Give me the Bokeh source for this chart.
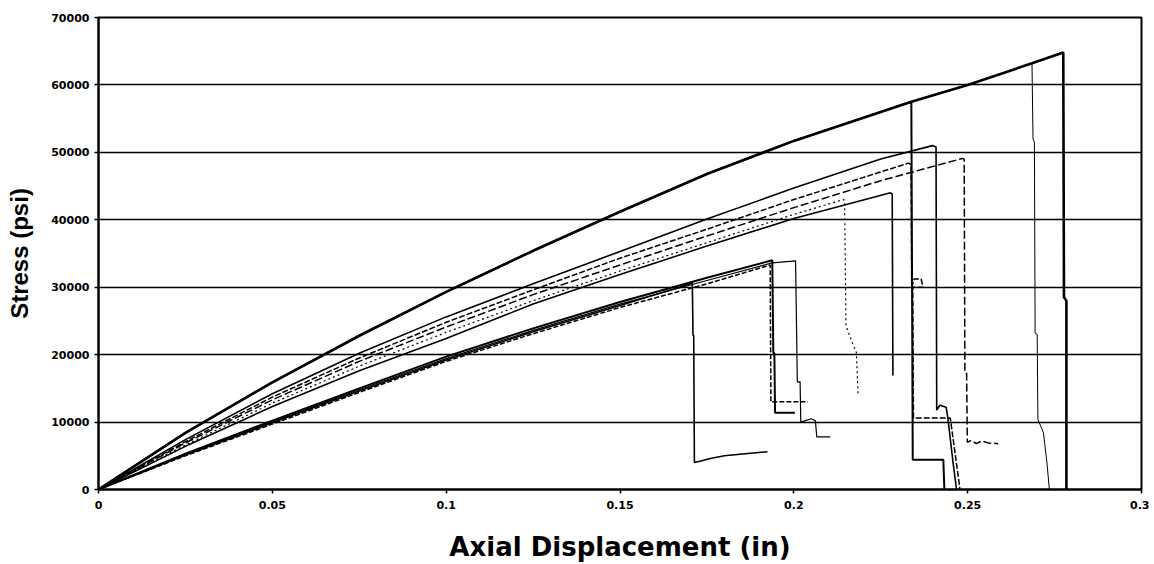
from bokeh.plotting import figure
from bokeh.models import FixedTicker, Range1d, CustomJSTickFormatter
from bokeh.embed import file_html
from bokeh.resources import INLINE

# ---- tick values / labels ----
x_ticks = [0, 0.05, 0.1, 0.15, 0.2, 0.25, 0.3]
x_tick_labels = ["0", "0.05", "0.1", "0.15", "0.2", "0.25", "0.3"]
y_ticks = [0, 10000, 20000, 30000, 40000, 50000, 60000, 70000]
y_tick_labels = ["0", "10000", "20000", "30000", "40000", "50000", "60000", "70000"]

# ---- specimens: axial displacement (in) / stress (psi) ----
s1_disp = [0, 0.025, 0.05, 0.075, 0.1, 0.125, 0.15, 0.175, 0.2, 0.225, 0.2338, 0.25, 0.2685, 0.2775, 0.2777, 0.2784, 0.2784]
s1_stress = [0, 8400, 15900, 22800, 29300, 35400, 41200, 46800, 51700, 56000, 57500, 60000, 63200, 64800, 28500, 28000, 0]

s2_disp = [0, 0.025, 0.05, 0.075, 0.1, 0.125, 0.15, 0.175, 0.2, 0.225, 0.2338, 0.25, 0.2685, 0.2688, 0.2692, 0.2694, 0.2700, 0.2702, 0.2718, 0.2728, 0.2735]
s2_stress = [0, 8400, 15900, 22800, 29300, 35400, 41200, 46800, 51700, 56000, 57500, 60000, 63200, 52000, 51500, 23200, 23000, 10400, 8400, 4000, 0]

s3_disp = [0, 0.025, 0.05, 0.075, 0.1, 0.125, 0.15, 0.175, 0.2, 0.225, 0.2338, 0.2342, 0.2430, 0.2433]
s3_stress = [0, 8400, 15900, 22800, 29300, 35400, 41200, 46800, 51700, 56000, 57500, 4400, 4400, 0]

s4_disp = [0, 0.025, 0.05, 0.075, 0.1, 0.125, 0.15, 0.175, 0.2, 0.225, 0.2399, 0.2409, 0.2411, 0.2420, 0.2438, 0.2443, 0.2458, 0.2468]
s4_stress = [0, 7400, 14200, 20200, 25600, 30500, 35300, 40100, 44700, 49000, 51000, 50800, 11800, 12500, 12200, 10600, 4000, 0]

s5_disp = [0, 0.025, 0.05, 0.075, 0.1, 0.125, 0.15, 0.175, 0.2, 0.225, 0.2330, 0.2337, 0.2339, 0.2346, 0.2366, 0.2372, 0.2342, 0.2344, 0.2450, 0.2478]
s5_stress = [0, 7100, 13700, 19500, 24800, 29600, 34300, 38600, 43000, 47100, 48400, 48200, 30000, 31200, 31200, 30000, 30000, 10600, 10600, 0]

s6_disp = [0, 0.025, 0.05, 0.075, 0.1, 0.125, 0.15, 0.175, 0.2, 0.225, 0.2485, 0.2490, 0.2492, 0.2497, 0.2499, 0.2510, 0.2525, 0.2540, 0.2560, 0.2588]
s6_stress = [0, 6900, 13300, 19000, 24100, 28900, 33300, 37600, 41800, 45800, 49100, 49000, 17300, 17200, 7000, 7300, 6800, 7200, 6900, 6800]

s7_disp = [0, 0.025, 0.05, 0.075, 0.1, 0.125, 0.15, 0.175, 0.2, 0.2278, 0.2283, 0.2285]
s7_stress = [0, 6400, 12300, 17600, 22400, 27500, 31900, 36100, 40200, 44000, 43800, 16900]

s8_disp = [0, 0.025, 0.05, 0.075, 0.1, 0.125, 0.15, 0.175, 0.2, 0.2143, 0.2146, 0.2150, 0.2170, 0.2180, 0.2185]
s8_stress = [0, 6600, 12800, 18300, 23300, 28000, 32400, 36600, 40800, 43000, 42800, 24300, 21500, 20300, 14000]

s9_disp = [0, 0.025, 0.05, 0.075, 0.1, 0.125, 0.15, 0.1708, 0.1710, 0.1712, 0.1714, 0.1730, 0.1760, 0.1800, 0.1860, 0.1924]
s9_stress = [0, 5100, 9900, 14600, 19200, 23400, 27300, 30600, 22900, 22800, 4000, 4200, 4600, 5000, 5300, 5600]

s10_disp = [0, 0.025, 0.05, 0.075, 0.1, 0.125, 0.15, 0.175, 0.1938, 0.1941, 0.1944, 0.1946, 0.2003]
s10_stress = [0, 5300, 10200, 15000, 19700, 23900, 27800, 31400, 34000, 20300, 20200, 11400, 11400]

s11_disp = [0, 0.025, 0.05, 0.075, 0.1, 0.125, 0.15, 0.175, 0.1932, 0.1934, 0.2040]
s11_stress = [0, 5000, 9700, 14400, 19000, 23100, 27000, 30500, 33300, 13000, 13000]

s12_disp = [0, 0.025, 0.05, 0.075, 0.1, 0.125, 0.15, 0.175, 0.1938, 0.2005, 0.2010, 0.2012, 0.2018, 0.2020, 0.2050, 0.2062, 0.2066, 0.2105]
s12_stress = [0, 5200, 10000, 14800, 19400, 23600, 27500, 31000, 33600, 33900, 16000, 15900, 16000, 10000, 10500, 10200, 7800, 7800]

series = [
    (s1_disp, s1_stress, 2.6, "solid"),
    (s2_disp, s2_stress, 1.0, "solid"),
    (s3_disp, s3_stress, 2.0, "solid"),
    (s4_disp, s4_stress, 1.6, "solid"),
    (s5_disp, s5_stress, 1.5, "6 2"),
    (s6_disp, s6_stress, 1.5, "8 3"),
    (s7_disp, s7_stress, 1.6, "solid"),
    (s8_disp, s8_stress, 1.2, "2 3"),
    (s9_disp, s9_stress, 1.6, "solid"),
    (s10_disp, s10_stress, 2.0, "solid"),
    (s11_disp, s11_stress, 1.5, "5 2"),
    (s12_disp, s12_stress, 1.2, "solid"),
]

p = figure(width=1149, height=564,
           x_range=Range1d(0, 0.3), y_range=Range1d(0, 70000),
           output_backend="svg", toolbar_location=None,
           min_border_left=98, min_border_right=8,
           min_border_top=17, min_border_bottom=74)

for xs, ys, w, dash in series:
    p.line(xs, ys, line_color="black", line_width=w, line_dash=dash)

fmt_code = ("const i = tvals.findIndex(t => Math.abs(t - tick) < 1e-9);"
            "return i >= 0 ? tlabels[i] : '';")
p.xaxis.ticker = FixedTicker(ticks=x_ticks)
p.xaxis.formatter = CustomJSTickFormatter(args=dict(tvals=x_ticks, tlabels=x_tick_labels), code=fmt_code)
p.yaxis.ticker = FixedTicker(ticks=y_ticks)
p.yaxis.formatter = CustomJSTickFormatter(args=dict(tvals=y_ticks, tlabels=y_tick_labels), code=fmt_code)

for ax in (p.xaxis, p.yaxis):
    ax.axis_line_color = "black"
    ax.axis_line_width = 2
    ax.major_tick_line_color = "black"
    ax.major_tick_line_width = 1.5
    ax.major_tick_out = 4
    ax.major_tick_in = 0
    ax.minor_tick_line_color = None
    ax.major_label_text_font = "DejaVu Sans"
    ax.major_label_text_font_style = "bold"
    ax.major_label_text_font_size = "11px"
    ax.major_label_text_color = "black"
    ax.axis_label_text_color = "black"
    ax.axis_label_text_font_style = "bold"

p.xaxis.major_label_standoff = 7
p.yaxis.major_label_standoff = 5

p.xaxis.axis_label = "Axial Displacement (in)"
p.xaxis.axis_label_text_font = "DejaVu Sans"
p.xaxis.axis_label_text_font_size = "26px"
p.xaxis.axis_label_standoff = 20

p.yaxis.axis_label = "Stress (psi)"
p.yaxis.axis_label_text_font = "Liberation Sans"
p.yaxis.axis_label_text_font_size = "24px"
p.yaxis.axis_label_standoff = 15

p.xgrid.visible = False
p.ygrid.grid_line_color = "black"
p.ygrid.grid_line_width = 1.5

p.outline_line_color = "black"
p.outline_line_width = 2
p.background_fill_color = "white"
p.border_fill_color = "white"

open("out.html", "w").write(file_html(p, INLINE))
